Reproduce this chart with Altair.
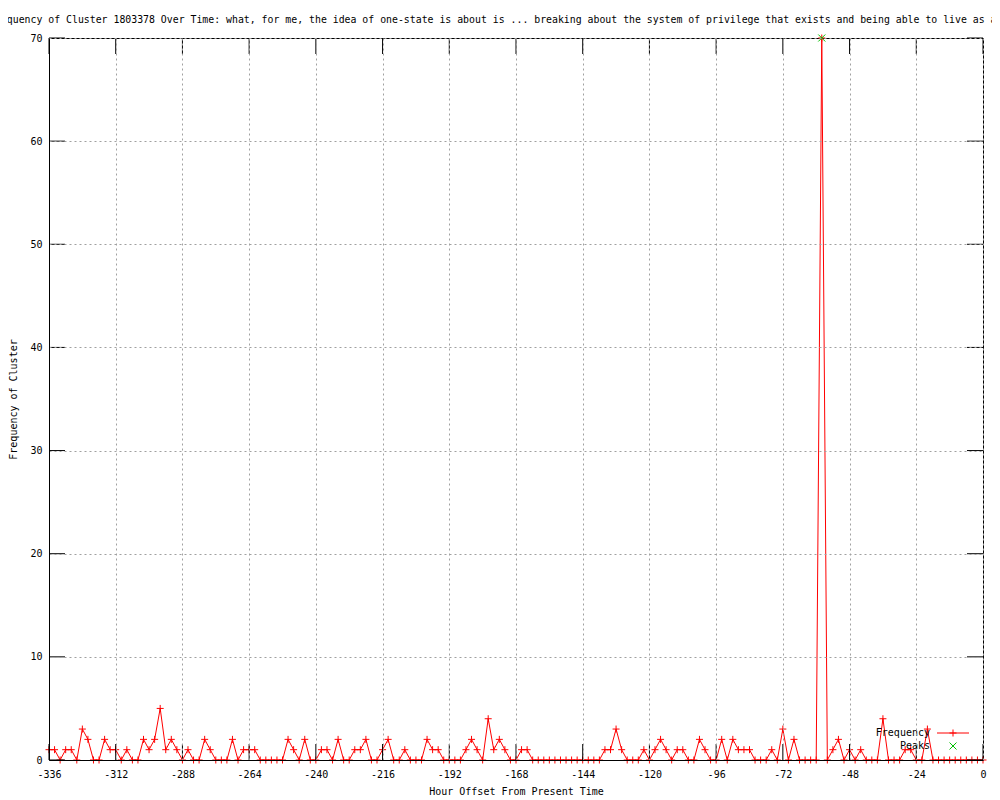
import altair as alt
import pandas as pd

# ---- data ----
hours = list(range(-336, 1, 2))
freq = (
    [1, 1, 0, 1, 1, 0, 3, 2, 0, 0, 2, 1]        # -336 .. -314
    + [1, 0, 1, 0, 0, 2, 1, 2, 5, 1, 2, 1]      # -312 .. -290
    + [0, 1, 0, 0, 2, 1, 0, 0, 0, 2, 0, 1]      # -288 .. -266
    + [1, 1, 0, 0, 0, 0, 0, 2, 1, 0, 2, 0]      # -264 .. -242
    + [0, 1, 1, 0, 2, 0, 0, 1, 1, 2, 0, 0]      # -240 .. -218
    + [1, 2, 0, 0, 1, 0, 0, 0, 2, 1, 1, 0]      # -216 .. -194
    + [0, 0, 0, 1, 2, 1, 0, 4, 1, 2, 1, 0]      # -192 .. -170
    + [0, 1, 1, 0, 0, 0, 0, 0, 0, 0, 0, 0]      # -168 .. -146
    + [0, 0, 0, 0, 1, 1, 3, 1, 0, 0, 0, 1]      # -144 .. -122
    + [0, 1, 2, 1, 0, 1, 1, 0, 0, 2, 1, 0]      # -120 .. -98
    + [0, 2, 0, 2, 1, 1, 1, 0, 0, 0, 1, 0]      # -96 .. -74
    + [3, 0, 2, 0, 0, 0, 0, 70, 0, 1, 2, 0]     # -72 .. -50
    + [1, 0, 1, 0, 0, 0, 4, 0, 0, 0, 1, 1]      # -48 .. -26
    + [0, 0, 3, 0, 0, 0, 0, 0, 0, 0, 0, 0]      # -24 .. -2
    + [0]                                       # 0
)
peak_hours = [-58]
peak_values = [70]
x_ticks = list(range(-336, 1, 24))
y_ticks = list(range(0, 71, 10))
legend_labels = ["Frequency", "Peaks"]

title_text = ("Frequency of Cluster 1803378 Over Time: what, for me, the idea of one-state "
              "is about is ... breaking about the system of privilege that exists and "
              "being able to live as a")

FONT = "DejaVu Sans Mono"
RED = "#ff0000"
GREEN = "#00c000"
W, H = 934, 722
TICK = 16
PLUS = "M-1,0L1,0M0,-1L0,1"
CROSS = "M-1,-1L1,1M-1,1L1,-1"

df = pd.DataFrame({"hour": hours, "count": freq})
peaks = pd.DataFrame({"hour": peak_hours, "count": peak_values})
xt = pd.DataFrame({"hour": x_ticks})
yt = pd.DataFrame({"count": y_ticks})
leg1 = pd.DataFrame({"label": [legend_labels[0]]})
leg2 = pd.DataFrame({"label": [legend_labels[1]]})

xscale = alt.Scale(domain=[-336, 0], nice=False, zero=False)
yscale = alt.Scale(domain=[0, 70], nice=False, zero=False)

x_enc = alt.X(
    "hour:Q", scale=xscale,
    axis=alt.Axis(
        values=x_ticks, title="Hour Offset From Present Time",
        grid=True, gridColor="#a0a0a0", gridDash=[2, 3], gridWidth=1,
        ticks=False, domain=True, domainColor="black", domainWidth=1,
        labelExpr="'' + datum.value", labelPadding=9, labelFlush=False,
        titleX=W / 2, titleY=34, titleBaseline="alphabetic", titleAlign="center",
        zindex=1,
    ),
)
y_enc = alt.Y(
    "count:Q", scale=yscale,
    axis=alt.Axis(
        values=y_ticks, title="Frequency of Cluster",
        grid=True, gridColor="#a0a0a0", gridDash=[2, 3], gridWidth=1,
        ticks=False, domain=True, domainColor="black", domainWidth=1,
        labelPadding=7, labelFlush=False,
        titleX=-36, titleY=H / 2, titleBaseline="middle", titleAlign="center",
        titleAngle=270, zindex=1,
    ),
)

line = alt.Chart(df).mark_line(color=RED, strokeWidth=1).encode(x=x_enc, y=y_enc)
pts = alt.Chart(df).mark_point(
    shape=PLUS, filled=False, color=RED, size=49, strokeWidth=1, opacity=1
).encode(x="hour:Q", y="count:Q")
pk = alt.Chart(peaks).mark_point(
    shape=CROSS, filled=False, color=GREEN, size=49, strokeWidth=1, opacity=1
).encode(x="hour:Q", y="count:Q")

# inward (mirrored) tick marks, gnuplot style
tb = alt.Chart(xt).mark_rule(color="black", strokeWidth=1).encode(
    x="hour:Q", y=alt.value(H), y2=alt.value(H - TICK))
tt = alt.Chart(xt).mark_rule(color="black", strokeWidth=1).encode(
    x="hour:Q", y=alt.value(0), y2=alt.value(TICK))
tl = alt.Chart(yt).mark_rule(color="black", strokeWidth=1).encode(
    y="count:Q", x=alt.value(0), x2=alt.value(TICK))
tr = alt.Chart(yt).mark_rule(color="black", strokeWidth=1).encode(
    y="count:Q", x=alt.value(W), x2=alt.value(W - TICK))

# key (bottom right, inside the plot)
k1t = alt.Chart(leg1).mark_text(align="right", baseline="middle", font=FONT,
                                fontSize=10, color="black").encode(
    text="label:N", x=alt.value(881), y=alt.value(695))
k1l = alt.Chart(leg1).mark_rule(color=RED, strokeWidth=1).encode(
    x=alt.value(888), x2=alt.value(920), y=alt.value(695))
k1p = alt.Chart(leg1).mark_point(shape=PLUS, filled=False, color=RED, size=49,
                                 strokeWidth=1, opacity=1).encode(
    x=alt.value(904), y=alt.value(695))
k2t = alt.Chart(leg2).mark_text(align="right", baseline="middle", font=FONT,
                                fontSize=10, color="black").encode(
    text="label:N", x=alt.value(881), y=alt.value(708))
k2p = alt.Chart(leg2).mark_point(shape=CROSS, filled=False, color=GREEN, size=49,
                                 strokeWidth=1, opacity=1).encode(
    x=alt.value(904), y=alt.value(708))

chart = alt.layer(
    line, pts, pk, tb, tt, tl, tr, k1t, k1l, k1p, k2t, k2p
).properties(
    width=W, height=H,
    title=alt.TitleParams(
        title_text, anchor="start", frame="group", dx=-60, offset=3,
        baseline="middle", font=FONT, fontSize=9.85, fontWeight="normal",
        color="black",
    ),
    padding={"left": 41, "top": 30, "right": 9, "bottom": 37},
    autosize=alt.AutoSizeParams(type="none"),
    background="white",
).configure_view(
    stroke="black", strokeWidth=1
).configure_axis(
    labelFont=FONT, labelFontSize=10, labelColor="black",
    titleFont=FONT, titleFontSize=10, titleFontWeight="normal", titleColor="black",
)

chart.save("out.html", embed_options={"renderer": "svg", "actions": False})
